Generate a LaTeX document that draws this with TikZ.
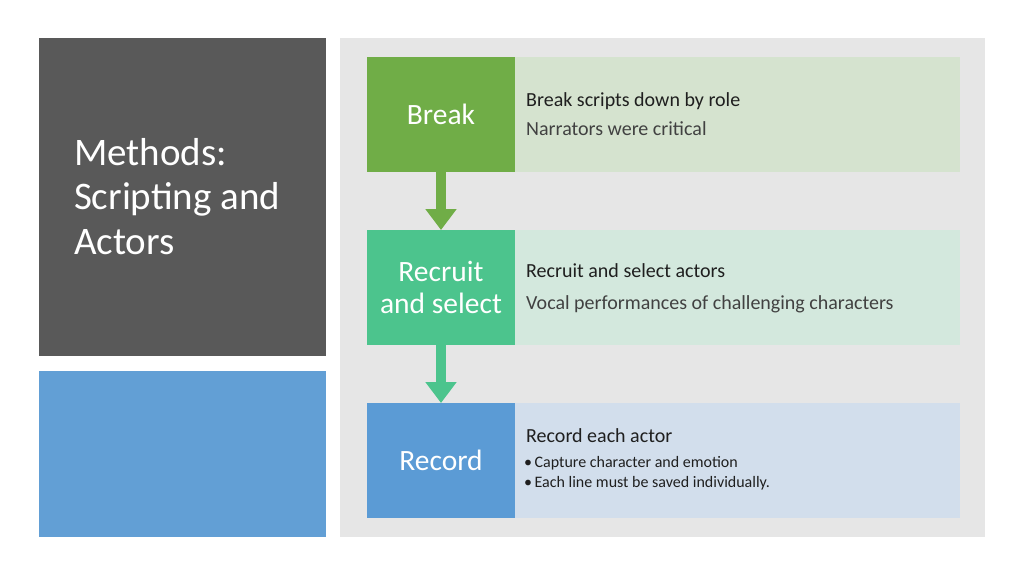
\documentclass[tikz,border=0pt]{standalone}
\usepackage{fontspec}
\setmainfont{Carlito}
\usetikzlibrary{arrows.meta,positioning}
\definecolor{slidedark}{HTML}{595959}
\definecolor{slideblue}{HTML}{629FD5}
\definecolor{panelgray}{HTML}{E6E6E6}
\definecolor{breakgreen}{HTML}{70AD47}
\definecolor{breakpale}{HTML}{D5E3CF}
\definecolor{recruitgreen}{HTML}{4CC48D}
\definecolor{recruitpale}{HTML}{D3E8DD}
\definecolor{recordblue}{HTML}{5B9BD5}
\definecolor{recordpale}{HTML}{D2DEEC}
\definecolor{textdark}{HTML}{1F1F1F}
\tikzset{
        cell/.style={anchor=north west, inner sep=0pt, outer sep=0pt},
        % Coloured step boxes
        step_box/.style={cell, minimum width=148pt, minimum height=115pt, text=white, align=center, font=\fontsize{29.5}{32}\selectfont},
        % Pale description panels
        desc_box/.style={cell, minimum width=445pt, minimum height=115pt},
        % Description lines
        desc_head/.style={anchor=base west, inner sep=0pt, text=textdark, font=\fontsize{20}{24}\selectfont},
        desc_note/.style={anchor=base west, inner sep=0pt, text=textdark!85, font=\fontsize{20}{24}\selectfont},
        desc_bullet/.style={anchor=base west, inner sep=0pt, text=textdark, font=\fontsize{16}{19}\selectfont},
        % Arrows between steps
        flow_arrow/.style={line width=10pt, -{Triangle[width=30pt,length=21pt]}}
}
\begin{document}
\begin{tikzpicture}[x=1pt, y=-1pt]
    \useasboundingbox (0,0) rectangle (1024,576);
    \fill[white] (0,0) rectangle (1024,576);
    \fill[slidedark] (39,38) rectangle (326,356);
    \fill[slideblue] (39,371) rectangle (326,537);
    \fill[panelgray] (340,38) rectangle (985,537);
    \node[cell, text=white, align=left, font=\fontsize{39}{44.5}\selectfont] (title) at (74,138)
        {Methods:\\Scripting and\\Actors};

    \node[step_box, fill=breakgreen] (break) at (367,57) {Break};
    \node[desc_box, fill=breakpale] (break_desc) at (515,57) {};
    \node[desc_head] (break_head) at (526,106) {Break scripts down by role};
    \node[desc_note] (break_note) at (526,135) {Narrators were critical};

    \node[step_box, fill=recruitgreen] (recruit) at (367,230) {Recruit\\and select};
    \node[desc_box, fill=recruitpale] (recruit_desc) at (515,230) {};
    \node[desc_head] (recruit_head) at (526,277) {Recruit and select actors};
    \node[desc_note] (recruit_note) at (526,309) {Vocal performances of challenging characters};

    \node[step_box, fill=recordblue] (record) at (367,403) {Record};
    \node[desc_box, fill=recordpale] (record_desc) at (515,403) {};
    \node[desc_head] (record_head) at (526,442) {Record each actor};
    \node[desc_bullet] (record_one) at (524,467) {•\hspace{2.5pt}Capture character and emotion};
    \node[desc_bullet] (record_two) at (524,487) {•\hspace{2.5pt}Each line must be saved individually.};

    \draw[flow_arrow, draw=breakgreen] (break.south) -- (recruit.north);
    \draw[flow_arrow, draw=recruitgreen] (recruit.south) -- (record.north);
\end{tikzpicture}
\end{document}
